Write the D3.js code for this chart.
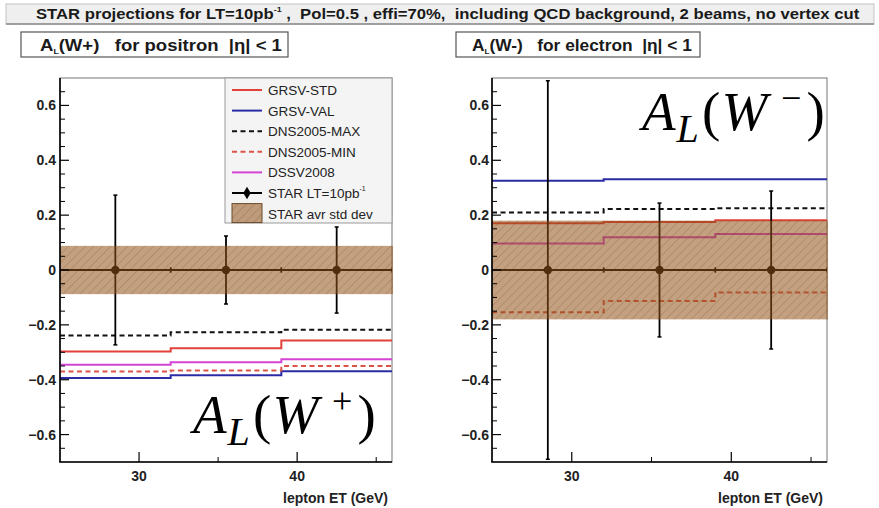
<!DOCTYPE html>
<html>
<head>
<meta charset="utf-8">
<script src="https://cdn.jsdelivr.net/npm/d3@7"></script>
<style>
  body { margin: 0; background: #fff; }
  svg { display: block; }
  text { font-family: "Liberation Sans", Arial, Helvetica, sans-serif; }
</style>
</head>
<body>
<svg id="chart" width="879" height="508"></svg>
<script>
// ---- data -------------------------------------------------------------
const binEdges   = [25, 32, 39, 46];          // lepton ET bins (GeV)
const binCenters = [28.5, 35.5, 42.5];
const yMajorTicks = [-0.6, -0.4, -0.2, 0, 0.2, 0.4, 0.6];
const xMajorTicks = [30, 40];
const xMinorTicks = [35, 45];

const seriesNames = ["GRSV-STD", "GRSV-VAL", "DNS2005-MAX", "DNS2005-MIN", "DSSV2008"];

// A_L(W+) predictions per bin
const wPlusGRSVSTD = [-0.297, -0.285, -0.257];
const wPlusGRSVVAL = [-0.394, -0.384, -0.369];
const wPlusDNSMAX  = [-0.239, -0.227, -0.218];
const wPlusDNSMIN  = [-0.370, -0.366, -0.350];
const wPlusDSSV    = [-0.345, -0.336, -0.325];
// A_L(W-) predictions per bin
const wMinusGRSVSTD = [0.170, 0.175, 0.181];
const wMinusGRSVVAL = [0.325, 0.331, 0.331];
const wMinusDNSMAX  = [0.210, 0.222, 0.225];
const wMinusDNSMIN  = [-0.154, -0.113, -0.082];
const wMinusDSSV    = [0.097, 0.119, 0.131];

// projected STAR points (central value 0) and their errors
const wPlusPoints  = [0, 0, 0];
const wPlusErrors  = [0.273, 0.124, 0.157];
const wMinusPoints = [0, 0, 0];
const wMinusErrors = [0.69, 0.244, 0.288];

// average standard deviation band (half-width)
const wPlusBand  = 0.088;
const wMinusBand = 0.180;

// ---- styles -----------------------------------------------------------
const seriesStyle = {
  "GRSV-STD":    { color: "#e3413c", dash: null },
  "GRSV-VAL":    { color: "#2b2ba6", dash: null },
  "DNS2005-MAX": { color: "#111111", dash: "5,3.5" },
  "DNS2005-MIN": { color: "#dc5448", dash: "5,3.5" },
  "DSSV2008":    { color: "#d444d4", dash: null }
};
const bandColor = "#925217";
const bandOpacity = 0.55;

const svg = d3.select("#chart");
const defs = svg.append("defs");
const hatch = defs.append("pattern")
  .attr("id", "hatch").attr("patternUnits", "userSpaceOnUse")
  .attr("width", 6).attr("height", 6)
  .attr("patternTransform", "rotate(45)");
hatch.append("line").attr("x1", 0).attr("y1", 0).attr("x2", 0).attr("y2", 6)
  .attr("stroke", "#5e3410").attr("stroke-width", 1.2).attr("stroke-opacity", 0.3);

// ---- header bar -------------------------------------------------------
svg.append("rect").attr("x", 6).attr("y", 4).attr("width", 868).attr("height", 20)
  .attr("fill", "#efefef").attr("stroke", "#c4c4c4").attr("stroke-width", 1);
svg.append("line").attr("x1", 6).attr("x2", 874).attr("y1", 24).attr("y2", 24)
  .attr("stroke", "#8a8a8a").attr("stroke-width", 1.5);

function fitText(sel, x, y, width) {
  const w = sel.node().getComputedTextLength();
  sel.attr("transform", `translate(${x},${y}) scale(${width / w},1)`);
}

const header = svg.append("text").attr("font-size", 15).attr("font-weight", "bold")
  .attr("fill", "#1a1a1a").style("white-space", "pre");
header.append("tspan").text("STAR projections for LT=10pb");
header.append("tspan").attr("font-size", 8).attr("dy", -7).text("-1");
header.append("tspan").attr("dy", 7)
  .text(" ,  Pol=0.5 , effi=70%,  including QCD background, 2 beams, no vertex cut");
fitText(header, 36, 19, 824);

// ---- panels -----------------------------------------------------------
const panels = [
  {
    title: "(W+)   for positron  |η| < 1", box: [21, 288], text: [40, 282],
    frame: { x0: 60, x1: 392, y0: 78, y1: 462 },
    tickLabelRight: 56,
    series: [wPlusGRSVSTD, wPlusGRSVVAL, wPlusDNSMAX, wPlusDNSMIN, wPlusDSSV],
    points: wPlusPoints, errors: wPlusErrors, band: wPlusBand,
    legend: true, sign: "+", bigX: 193, bigY: 433
  },
  {
    title: "(W-)   for electron  |η| < 1", box: [456, 700], text: [472, 692],
    frame: { x0: 492, x1: 827, y0: 78, y1: 462 },
    tickLabelRight: 489,
    series: [wMinusGRSVSTD, wMinusGRSVVAL, wMinusDNSMAX, wMinusDNSMIN, wMinusDSSV],
    points: wMinusPoints, errors: wMinusErrors, band: wMinusBand,
    legend: false, sign: "\u2212", bigX: 642, bigY: 130
  }
];

panels.forEach((p, pi) => {
  const f = p.frame;
  const x = d3.scaleLinear().domain([binEdges[0], binEdges[3]]).range([f.x0, f.x1]);
  const y = d3.scaleLinear().domain([-0.7, 0.7]).range([f.y1, f.y0]);

  // panel title box
  svg.append("rect").attr("x", p.box[0]).attr("y", 32).attr("width", p.box[1] - p.box[0])
    .attr("height", 25).attr("fill", "#fff").attr("stroke", "#555").attr("stroke-width", 1.2);
  const t = svg.append("text").attr("font-size", 17)
    .attr("font-weight", "bold").attr("fill", "#1a1a1a").style("white-space", "pre");
  t.append("tspan").text("A");
  t.append("tspan").attr("font-size", 8).attr("dy", 3).text("L");
  t.append("tspan").attr("dy", -3).text(p.title);
  fitText(t, p.text[0], 51, p.text[1] - p.text[0]);

  const g = svg.append("g");
  const clipId = "clip" + pi;
  defs.append("clipPath").attr("id", clipId).append("rect")
    .attr("x", f.x0).attr("y", f.y0).attr("width", f.x1 - f.x0).attr("height", f.y1 - f.y0);
  const plot = g.append("g").attr("clip-path", `url(#${clipId})`);

  // frame (top/right in grey)
  g.insert("rect", ":first-child").attr("x", f.x0).attr("y", f.y0)
    .attr("width", f.x1 - f.x0).attr("height", f.y1 - f.y0)
    .attr("fill", "#fff").attr("stroke", "#8c8c8c").attr("stroke-width", 1.2);

  // theory curves as step histograms
  const step = d3.line().curve(d3.curveStepAfter).x(d => x(d[0])).y(d => y(d[1]));
  p.series.forEach((vals, i) => {
    const st = seriesStyle[seriesNames[i]];
    const pts = binEdges.map((e, k) => [e, vals[Math.min(k, vals.length - 1)]]);
    plot.append("path").attr("d", step(pts)).attr("fill", "none")
      .attr("stroke", st.color).attr("stroke-width", 2)
      .attr("stroke-dasharray", st.dash);
  });

  // STAR projected points with error bars
  const pg = plot.append("g").attr("stroke", "#000");
  p.points.forEach((v, i) => {
    pg.append("line").attr("x1", x(binEdges[i])).attr("x2", x(binEdges[i + 1]))
      .attr("y1", y(v)).attr("y2", y(v)).attr("stroke-width", 2);
    [binEdges[i], binEdges[i + 1]].forEach(e => {
      pg.append("line").attr("x1", x(e)).attr("x2", x(e))
        .attr("y1", y(v) - 2.5).attr("y2", y(v) + 2.5).attr("stroke-width", 1.5);
    });
    pg.append("line").attr("x1", x(binCenters[i])).attr("x2", x(binCenters[i]))
      .attr("y1", y(v - p.errors[i])).attr("y2", y(v + p.errors[i])).attr("stroke-width", 1.8);
    [v - p.errors[i], v + p.errors[i]].forEach(e => {
      pg.append("line").attr("x1", x(binCenters[i]) - 2).attr("x2", x(binCenters[i]) + 2)
        .attr("y1", y(e)).attr("y2", y(e)).attr("stroke-width", 1.5);
    });
    pg.append("circle").attr("cx", x(binCenters[i])).attr("cy", y(v)).attr("r", 4.2)
      .attr("fill", "#000").attr("stroke", "none");
  });

  // average std dev band, drawn translucent on top
  const bandY0 = y(p.band), bandY1 = y(-p.band);
  g.append("rect").attr("x", x(binEdges[0])).attr("y", bandY0)
    .attr("width", x(binEdges[3]) - x(binEdges[0]) + 1).attr("height", bandY1 - bandY0)
    .attr("fill", bandColor).attr("fill-opacity", bandOpacity);
  g.append("rect").attr("x", x(binEdges[0])).attr("y", bandY0)
    .attr("width", x(binEdges[3]) - x(binEdges[0]) + 1).attr("height", bandY1 - bandY0)
    .attr("fill", "url(#hatch)");

  // axes
  const ax = g.append("g");
  ax.append("line").attr("x1", f.x0).attr("x2", f.x0).attr("y1", f.y0).attr("y2", f.y1)
    .attr("stroke", "#000").attr("stroke-width", 1.6);
  ax.append("line").attr("x1", f.x0 - 0.8).attr("x2", f.x1).attr("y1", f.y1).attr("y2", f.y1)
    .attr("stroke", "#000").attr("stroke-width", 1.6);
  const yMinor = d3.range(-14, 15).map(k => k * 0.05)
    .filter(v => !yMajorTicks.some(m => Math.abs(m - v) < 1e-6) && Math.abs(v) < 0.699);
  yMinor.forEach(v => ax.append("line").attr("x1", f.x0).attr("x2", f.x0 + 5)
    .attr("y1", y(v)).attr("y2", y(v)).attr("stroke", "#000").attr("stroke-width", 1));
  yMajorTicks.forEach(v => {
    ax.append("line").attr("x1", f.x0).attr("x2", f.x0 + 9)
      .attr("y1", y(v)).attr("y2", y(v)).attr("stroke", "#000").attr("stroke-width", 1.2);
    ax.append("text").attr("x", p.tickLabelRight).attr("y", y(v) + 5)
      .attr("text-anchor", "end").attr("font-size", 14).attr("font-weight", "bold")
      .attr("fill", "#222").text(d3.format("")(v));
  });
  xMajorTicks.forEach(v => {
    ax.append("line").attr("x1", x(v)).attr("x2", x(v)).attr("y1", f.y1).attr("y2", f.y1 - 10)
      .attr("stroke", "#000").attr("stroke-width", 1.2);
    ax.append("text").attr("x", x(v)).attr("y", 481).attr("text-anchor", "middle")
      .attr("font-size", 14).attr("font-weight", "bold").attr("fill", "#222").text(v);
  });
  xMinorTicks.forEach(v => ax.append("line").attr("x1", x(v)).attr("x2", x(v))
    .attr("y1", f.y1).attr("y2", f.y1 - 5).attr("stroke", "#000").attr("stroke-width", 1));
  ax.append("text").attr("x", f.x1 - 4).attr("y", 503).attr("text-anchor", "end")
    .attr("font-size", 14).attr("font-weight", "bold").attr("fill", "#222")
    .text("lepton ET (GeV)");

  // big A_L(W±) label in math style, one text element with positioned glyphs
  const big = svg.append("text").attr("fill", "#000")
    .style("font-family", "'Liberation Serif', 'Times New Roman', serif");
  const pieces = [
    { s: "A", x: 0, y: 0, size: 55, it: true },
    { s: "L", x: 34.5, y: 12, size: 40, it: true },
    { s: "(", x: 60, y: 0, size: 55, it: false },
    { s: "W", x: 79.5, y: 0, size: 55, it: true },
    { s: p.sign, x: 139, y: -20, size: 36, it: false },
    { s: ")", x: 164.5, y: 0, size: 55, it: false }
  ];
  pieces.forEach(c => big.append("tspan").attr("x", p.bigX + c.x).attr("y", p.bigY + c.y)
    .attr("font-size", c.size).attr("font-style", c.it ? "italic" : "normal").text(c.s));

  // legend
  if (p.legend) {
    const lg = svg.append("g");
    const lx = 225, ly = 78, lw = f.x1 - 225, lh = 145;
    lg.append("rect").attr("x", lx).attr("y", ly).attr("width", lw).attr("height", lh)
      .attr("fill", "#f4f4f4").attr("stroke", "#9a9a9a").attr("stroke-width", 1);
    const rowY = k => 90 + k * 20.6;
    seriesNames.forEach((name, k) => {
      const st = seriesStyle[name];
      lg.append("line").attr("x1", 232).attr("x2", 262).attr("y1", rowY(k)).attr("y2", rowY(k))
        .attr("stroke", st.color).attr("stroke-width", 2).attr("stroke-dasharray", st.dash);
      lg.append("text").attr("x", 268).attr("y", rowY(k) + 5).attr("font-size", 13.5)
        .attr("fill", "#222").text(name);
    });
    const k5 = rowY(5);
    lg.append("line").attr("x1", 232).attr("x2", 262).attr("y1", k5).attr("y2", k5)
      .attr("stroke", "#000").attr("stroke-width", 2);
    lg.append("path").attr("d", d3.symbol(d3.symbolDiamond, 46)())
      .attr("transform", `translate(247,${k5})`).attr("fill", "#000");
    const st5 = lg.append("text").attr("x", 268).attr("y", k5 + 5).attr("font-size", 13.5)
      .attr("fill", "#222");
    st5.append("tspan").text("STAR LT=10pb");
    st5.append("tspan").attr("font-size", 7).attr("dy", -7).text("-1");
    const k6 = rowY(6);
    lg.append("rect").attr("x", 232).attr("y", k6 - 10).attr("width", 30).attr("height", 19)
      .attr("fill", bandColor).attr("fill-opacity", bandOpacity)
      .attr("stroke", "#6b4a2a").attr("stroke-width", 1);
    lg.append("rect").attr("x", 232).attr("y", k6 - 10).attr("width", 30).attr("height", 19)
      .attr("fill", "url(#hatch)");
    lg.append("text").attr("x", 268).attr("y", k6 + 5).attr("font-size", 13.5)
      .attr("fill", "#222").text("STAR avr std dev");
  }
});
</script>
</body>
</html>
